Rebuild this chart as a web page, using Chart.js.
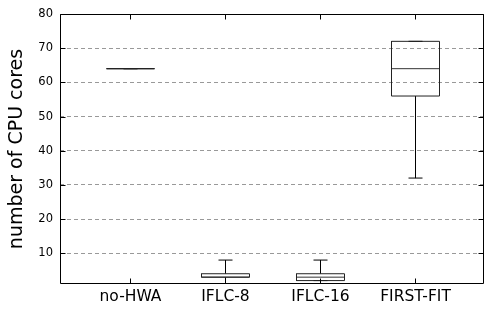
<!DOCTYPE html>
<html>
<head>
<meta charset="utf-8">
<script src="https://cdn.jsdelivr.net/npm/chart.js@4"></script>
<style>
  html, body { margin: 0; padding: 0; background: #fff; }
  #wrap { width: 485px; height: 314px; }
</style>
</head>
<body>
<div id="wrap"><canvas id="chart" width="485" height="314"></canvas></div>
<script>
const categories = ["no-HWA", "IFLC-8", "IFLC-16", "FIRST-FIT"];
const whiskerLow = [64, 1, 2, 32];
const q1 = [64, 3, 2, 56];
const median = [64, 3, 3, 64];
const q3 = [64, 4, 4, 72];
const whiskerHigh = [64, 8, 8, 72];
const yTicks = [10, 20, 30, 40, 50, 60, 70, 80];

// x range chosen so box centres land on pixel centres (95px per category)
const xMin = 1 - 70.5 / 95;
const xMax = xMin + 424 / 95;
const boxHalf = 24 / 95;
const capHalf = 7 / 95;
const positions = categories.map((c, i) => i + 1);

function seg(points, color) {
    return {
        data: points.map(p => ({ x: p[0], y: p[1] })),
        showLine: true,
        borderColor: color,
        borderWidth: 1,
        pointRadius: 0,
        fill: false
    };
}

const datasets = [];
positions.forEach((x, i) => {
    // box
    datasets.push(seg([[x - boxHalf, q1[i]], [x + boxHalf, q1[i]], [x + boxHalf, q3[i]], [x - boxHalf, q3[i]], [x - boxHalf, q1[i]]], "#222"));
    // median
    datasets.push(seg([[x - boxHalf, median[i]], [x + boxHalf, median[i]]], "#333"));
    // whiskers
    datasets.push(seg([[x, q3[i]], [x, whiskerHigh[i]]], "#000"));
    datasets.push(seg([[x, q1[i]], [x, whiskerLow[i]]], "#000"));
    // caps
    datasets.push(seg([[x - capHalf, whiskerHigh[i]], [x + capHalf, whiskerHigh[i]]], "#000"));
    datasets.push(seg([[x - capHalf, whiskerLow[i]], [x + capHalf, whiskerLow[i]]], "#000"));
});

const frame = {
    id: "frame",
    afterDraw(chart) {
        const ctx = chart.ctx;
        const a = chart.chartArea;
        const xs = chart.scales.x, ys = chart.scales.y;
        const L = Math.round(a.left) + 0.5, R = Math.round(a.right) - 0.5;
        const T = Math.round(a.top) + 0.5, B = Math.round(a.bottom) - 0.5;
        ctx.save();
        ctx.strokeStyle = "#000";
        ctx.lineWidth = 1;
        ctx.beginPath();
        ctx.rect(L, T, R - L, B - T);
        positions.forEach(v => {
            const px = Math.floor(xs.getPixelForValue(v)) + 0.5;
            ctx.moveTo(px, T); ctx.lineTo(px, T + 5);
            ctx.moveTo(px, B); ctx.lineTo(px, B - 5);
        });
        yTicks.forEach(v => {
            const py = Math.round(ys.getPixelForValue(v)) + 0.5;
            ctx.moveTo(L, py); ctx.lineTo(L + 5, py);
            ctx.moveTo(R, py); ctx.lineTo(R - 5, py);
        });
        ctx.stroke();
        ctx.restore();
    }
};

new Chart(document.getElementById("chart"), {
    type: "scatter",
    data: { datasets },
    options: {
        responsive: false,
        animation: false,
        layout: { padding: { top: 14, right: 1, left: 0, bottom: 0 } },
        plugins: { legend: { display: false }, tooltip: { enabled: false } },
        scales: {
            x: {
                type: "linear",
                min: xMin,
                max: xMax,
                afterBuildTicks: s => { s.ticks = positions.map(v => ({ value: v })); },
                afterFit: s => { s.height = 30; },
                grid: { display: false, drawTicks: false },
                border: { display: false },
                ticks: {
                    padding: 4,
                    color: "#000",
                    font: { family: "DejaVu Sans", size: 15.5 },
                    callback: v => categories[v - 1]
                }
            },
            y: {
                min: 1,
                max: 80,
                afterBuildTicks: s => { s.ticks = yTicks.map(v => ({ value: v })); },
                afterFit: s => { s.width = 60; },
                grid: { color: "#999", lineWidth: 1, drawTicks: false },
                border: { display: false, dash: [4, 3] },
                ticks: {
                    padding: 7,
                    color: "#000",
                    font: { family: "DejaVu Sans", size: 11.5 }
                },
                title: {
                    display: true,
                    text: "number of CPU cores",
                    color: "#000",
                    font: { family: "DejaVu Sans", size: 19 },
                    padding: { top: 6, bottom: 0 }
                }
            }
        }
    },
    plugins: [frame]
});
</script>
</body>
</html>
